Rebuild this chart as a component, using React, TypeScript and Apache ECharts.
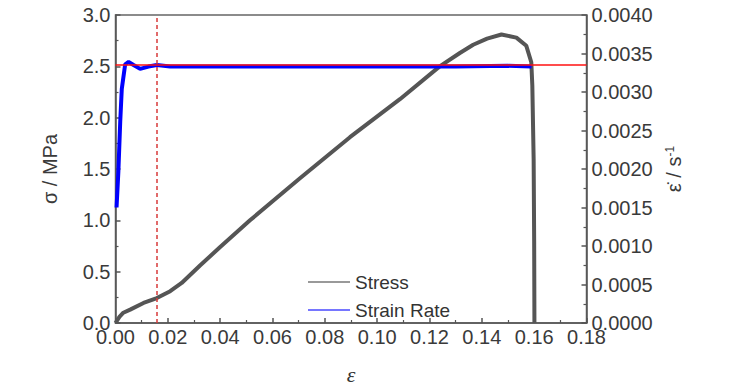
import React, { useEffect, useRef } from "react";
import * as echarts from "echarts";

// Stress curve: strain (ε) and stress (MPa)
const stressStrain = [0, 0.0015, 0.003, 0.0056, 0.0107, 0.0158, 0.0209, 0.0253, 0.0323, 0.04, 0.0514, 0.0705, 0.0896, 0.1087, 0.1239, 0.1316, 0.1367, 0.142, 0.1475, 0.1532, 0.157, 0.1589, 0.1593, 0.1598, 0.16, 0.1601];
const stressValues = [0, 0.06, 0.1, 0.13, 0.195, 0.243, 0.31, 0.39, 0.56, 0.74, 1.0, 1.41, 1.81, 2.18, 2.5, 2.63, 2.71, 2.77, 2.81, 2.78, 2.7, 2.54, 2.31, 1.6, 0.8, 0];

// Strain-rate curve: strain (ε) and strain rate (1/s)
const rateStrain = [0.0004, 0.0011, 0.0018, 0.0024, 0.0037, 0.005, 0.0069, 0.0094, 0.0126, 0.0158, 0.0209, 0.03, 0.05, 0.07, 0.09, 0.11, 0.13, 0.15, 0.159];
const rateValues = [0.0015, 0.00197, 0.00261, 0.00304, 0.00336, 0.00339, 0.00335, 0.0033, 0.00333, 0.00335, 0.00333, 0.00333, 0.00333, 0.00333, 0.00333, 0.00333, 0.00333, 0.00334, 0.00333];

const targetRate = 0.00335;
const markerStrain = 0.0158;

const seriesNames = ["Stress", "Strain Rate"];

export default function App() {
  const ref = useRef<HTMLDivElement>(null);
  useEffect(() => {
    if (!ref.current) return;
    const chart = echarts.init(ref.current, null, { renderer: "svg" });
    const font = "'Liberation Sans', Arial, sans-serif";
    const labelStyle = { fontSize: 20, color: "#3a3a3a", fontFamily: font };
    const axisLine = { show: true, lineStyle: { color: "#555", width: 1.5 } };
    chart.setOption({
      animation: false,
      backgroundColor: "#fff",
      grid: {
        left: 115.5,
        right: 142.5,
        top: 15,
        bottom: 63,
        show: true,
        borderColor: "#666",
        borderWidth: 1.5,
      },
      legend: {
        orient: "vertical",
        left: 303,
        top: 267,
        itemWidth: 42,
        itemHeight: 1.5,
        itemGap: 8,
        icon: "rect",
        textStyle: { fontSize: 19, color: "#333", fontFamily: font, lineHeight: 20 },
        data: [
          { name: seriesNames[0], itemStyle: { color: "#777" } },
          { name: seriesNames[1], itemStyle: { color: "#4848ff" } },
        ],
      },
      xAxis: {
        type: "value",
        min: 0,
        max: 0.18,
        interval: 0.02,
        name: "ε",
        nameLocation: "middle",
        nameGap: 40,
        nameTextStyle: { fontSize: 22, fontFamily: "'Liberation Serif', serif", fontStyle: "italic", color: "#333" },
        axisLine,
        axisTick: { inside: true, length: 5, lineStyle: { color: "#555", width: 1.5 } },
        minorTick: { show: true, splitNumber: 2, length: 3, lineStyle: { color: "#555", width: 1.2 } },
        splitLine: { show: false },
        axisLabel: { ...labelStyle, margin: 4, formatter: (v: number) => v.toFixed(2) },
      },
      yAxis: [
        {
          type: "value",
          min: 0,
          max: 3,
          interval: 0.5,
          name: "σ / MPa",
          nameLocation: "middle",
          nameGap: 56,
          nameTextStyle: { fontSize: 20, fontFamily: font, color: "#3a3a3a" },
          axisLine,
          axisTick: { inside: true, length: 5, lineStyle: { color: "#555", width: 1.5 } },
          minorTick: { show: true, splitNumber: 2, length: 3, lineStyle: { color: "#555", width: 1.2 } },
          splitLine: { show: false },
          axisLabel: { ...labelStyle, margin: 5, formatter: (v: number) => v.toFixed(1) },
        },
        {
          type: "value",
          min: 0,
          max: 0.004,
          interval: 0.0005,
          position: "right",
          name: "{e|ε̇} / s{sup|-1}",
          nameLocation: "middle",
          nameGap: 77,
          nameTextStyle: {
            fontSize: 20,
            fontFamily: font,
            color: "#3a3a3a",
            rich: {
              e: { fontSize: 20, fontFamily: font, color: "#3a3a3a" },
              sup: { fontSize: 12, fontFamily: font, color: "#3a3a3a", verticalAlign: "top", lineHeight: 20 },
            },
          },
          axisLine,
          axisTick: { inside: true, length: 5, lineStyle: { color: "#555", width: 1.5 } },
          minorTick: { show: true, splitNumber: 2, length: 3, lineStyle: { color: "#555", width: 1.2 } },
          splitLine: { show: false },
          axisLabel: { ...labelStyle, margin: 5, formatter: (v: number) => v.toFixed(4) },
        },
      ],
      series: [
        {
          name: seriesNames[0],
          type: "line",
          showSymbol: false,
          yAxisIndex: 0,
          lineStyle: { color: "#555", width: 4 },
          itemStyle: { color: "#555" },
          data: stressStrain.map((x, i) => [x, stressValues[i]]),
          z: 2,
        },
        {
          name: seriesNames[1],
          type: "line",
          showSymbol: false,
          yAxisIndex: 1,
          lineStyle: { color: "#0000ff", width: 4 },
          itemStyle: { color: "#0000ff" },
          data: rateStrain.map((x, i) => [x, rateValues[i]]),
          z: 3,
          markLine: {
            silent: true,
            symbol: "none",
            precision: 6,
            label: { show: false },
            data: [
              { xAxis: markerStrain, lineStyle: { color: "#d83a3a", width: 1.5, type: [4, 3] } },
              { yAxis: targetRate, lineStyle: { color: "#ff1010", width: 1.5, type: "solid" } },
            ],
          },
        },
      ],
    });
    return () => chart.dispose();
  }, []);
  return <div ref={ref} style={{ position: "fixed", left: 0, top: 0, width: 729, height: 390 }} />;
}
